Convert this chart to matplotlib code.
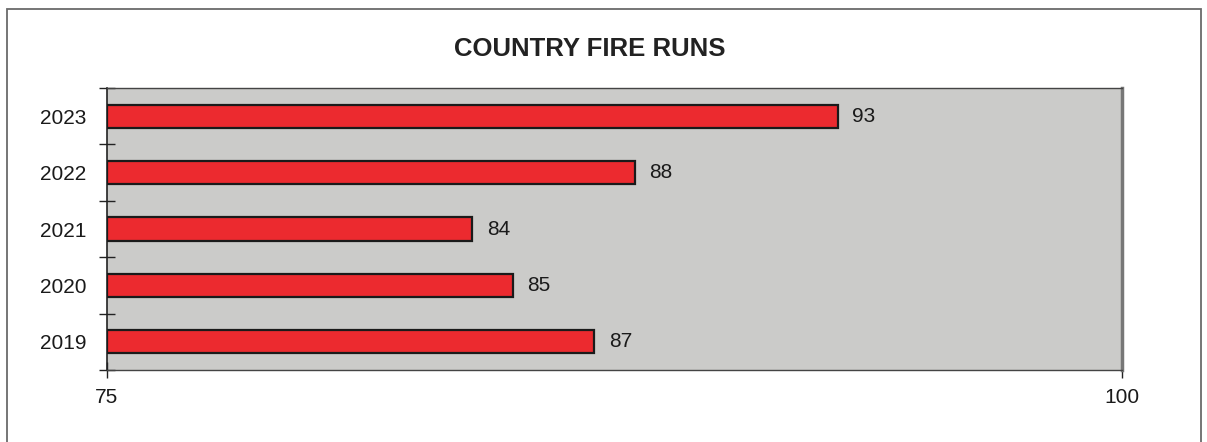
import matplotlib
matplotlib.use("Agg")
import matplotlib.pyplot as plt
from matplotlib.patches import Rectangle

years = ["2019", "2020", "2021", "2022", "2023"]
runs = [87, 85, 84, 88, 93]
x_min, x_max = 75, 100
x_ticks = [75, 100]
title = "COUNTRY FIRE RUNS"

plt.rcParams['font.family'] = ['Liberation Sans', 'DejaVu Sans']

W, H = 1207, 442
fig = plt.figure(figsize=(W / 100, H / 100), dpi=100)
fig.patch.set_facecolor("white")

# outer border of the chart
fig.patches.append(Rectangle((7 / W, -0.05), (1201 - 7) / W, 1.05 - 9 / H,
                             transform=fig.transFigure, fill=False,
                             edgecolor="#6a6a6a", linewidth=1.3))

ax = fig.add_axes([107 / W, 1 - 370 / H, (1122 - 107) / W, (370 - 88) / H])
ax.set_facecolor("#CBCBC9")

pos = list(range(len(years)))
ax.barh(pos, [r - x_min for r in runs], left=x_min, height=0.41,
        color="#EC2A2F", edgecolor="#1a1a1a", linewidth=1.6, zorder=3)

for p, r in zip(pos, runs):
    ax.annotate(f"{r}", xy=(r, p), xytext=(10.5, 0), textcoords="offset points",
                va="center", ha="left", fontsize=15, color="#1a1a1a")

ax.set_xlim(x_min, x_max)
ax.set_ylim(-0.5, len(years) - 0.5)
ax.set_xticks(x_ticks)
ax.set_xticklabels([str(t) for t in x_ticks], fontsize=15, color="#1a1a1a")
ax.set_yticks(pos)
ax.set_yticklabels(years, fontsize=15, color="#1a1a1a")
ax.set_yticks([p - 0.5 for p in pos] + [len(years) - 0.5], minor=True)
ax.tick_params(axis="y", which="major", length=0, pad=15)
ax.tick_params(axis="y", which="minor", length=12, direction="inout", width=1, color="#222")
ax.tick_params(axis="x", which="major", length=12, direction="inout", width=1, color="#222", pad=7)

for s in ["top", "bottom"]:
    ax.spines[s].set_color("#444")
    ax.spines[s].set_linewidth(1.0)
    ax.spines[s].set_linestyle((0, (2, 1)))
ax.spines["left"].set_color("#222")
ax.spines["left"].set_linewidth(1.2)
ax.spines["right"].set_color("#777")
ax.spines["right"].set_linewidth(2.5)

fig.text(590 / W, 1 - 49 / H, title, ha="center", va="center",
         fontsize=18.5, fontweight="bold", color="#222")

fig.savefig("out.png", dpi=100)
